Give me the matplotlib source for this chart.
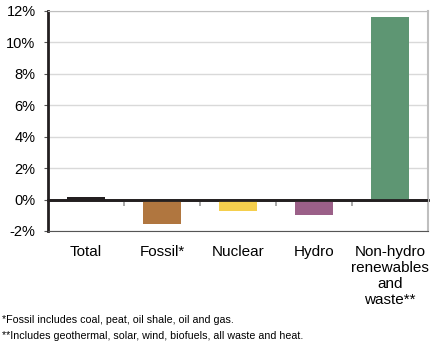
import matplotlib.pyplot as plt
import numpy as np

plt.rcParams['font.family'] = ['Liberation Sans', 'DejaVu Sans']

# Data: growth by source
categories = ["Total", "Fossil*", "Nuclear", "Hydro", "Non-hydro\nrenewables\nand\nwaste**"]
values = [0.17, -1.57, -0.75, -1.0, 11.6]
colors = ["#231f20", "#b0763f", "#f5cf4d", "#9b6088", "#5e9673"]
yticks = [-2, 0, 2, 4, 6, 8, 10, 12]
footnotes = ["*Fossil includes coal, peat, oil shale, oil and gas.",
             "**Includes geothermal, solar, wind, biofuels, all waste and heat."]

fig = plt.figure(figsize=(4.41, 3.49), dpi=100)
ax = fig.add_axes([48 / 441, 118 / 349, 380 / 441, 220 / 349])

x = np.arange(len(categories))
ax.bar(x, values, width=0.51, color=colors, zorder=3)

ax.set_xlim(-0.5, len(categories) - 0.5)
ax.set_ylim(-2, 12)
ax.set_yticks(yticks)
ax.set_yticklabels([f"{v}%" for v in yticks], fontsize=10.5)
ax.grid(axis='y', color='#d9d9d9', linewidth=1, zorder=0)
ax.tick_params(axis='y', length=3, color='#555555', pad=6)

ax.set_xticks(x)
ax.set_xticklabels(categories, fontsize=11, linespacing=1.2)
ax.tick_params(axis='x', length=0, pad=10)

ax.spines['top'].set_color('#bfbfbf')
ax.spines['right'].set_color('#bfbfbf')
ax.spines['right'].set_linewidth(1.5)
ax.spines['bottom'].set_color('#555555')
ax.spines['left'].set_color('#231f20')
ax.spines['left'].set_linewidth(2)

# zero axis line with category separator ticks
zero_ax = ax.secondary_xaxis(2 / 14)
zero_ax.set_xticks(x[:-1] + 0.5)
zero_ax.set_xticklabels([])
zero_ax.tick_params(length=4, color='#999999', width=1.2)
zero_ax.spines['bottom'].set_color('#231f20')
zero_ax.spines['bottom'].set_linewidth(2)
ax.axhline(0, color='#231f20', linewidth=2, zorder=4)

fig.text(2 / 441, 1 - 323 / 349, footnotes[0], fontsize=7.7, va='baseline')
fig.text(2 / 441, 1 - 339 / 349, footnotes[1], fontsize=7.7, va='baseline')

fig.savefig('out.png', dpi=100)
